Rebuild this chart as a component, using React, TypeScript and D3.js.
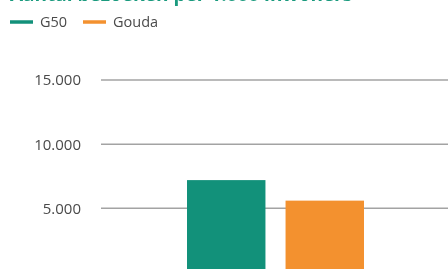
import React, { useRef, useEffect } from 'react';
import * as d3 from 'd3';

// single category, two regions side by side
const categories = ['Totaal'];
const seriesNames = ['G50', 'Gouda'];
const g50Values = [7200];
const goudaValues = [5600];
const yTicks = [5000, 10000, 15000];
const title = 'Aantal bezoeken per 1.000 inwoners';

const colors: Record<string, string> = {
  G50: '#12917a',
  Gouda: '#f3912f',
};

export default function App() {
  const svgRef = useRef<SVGSVGElement>(null);

  useEffect(() => {
    if (!svgRef.current) return;
    const svg = d3.select(svgRef.current);
    svg.selectAll('*').remove();

    const width = 448;
    const margin = { top: 0, right: -2, bottom: 0, left: 101 };
    const font = "'Open Sans', 'Noto Sans', sans-serif";

    const x0 = d3.scaleBand<string>()
      .domain(categories)
      .range([margin.left, width - margin.right])
      .paddingOuter(0.486);

    const x1 = d3.scaleBand<string>()
      .domain(seriesNames)
      .range([0, x0.bandwidth()])
      .paddingInner(0.204);

    const y = d3.scaleLinear()
      .domain([0, 15000])
      .range([272.5, 80]);

    // title (mostly cut off at the top, as in the source)
    svg.append('text')
      .attr('x', 10)
      .attr('y', 1)
      .attr('fill', '#1a9a7e')
      .attr('font-family', font)
      .attr('font-weight', 700)
      .attr('font-size', '19px')
      .text(title);

    // legend
    const legend = svg.append('g').attr('transform', 'translate(10, 22)');
    const offsets = [0, 73];
    seriesNames.forEach((name, i) => {
      const item = legend.append('g').attr('transform', `translate(${offsets[i]}, 0)`);
      item.append('line')
        .attr('x1', 0).attr('x2', 23)
        .attr('y1', 0).attr('y2', 0)
        .attr('stroke', colors[name])
        .attr('stroke-width', 3.5);
      item.append('text')
        .attr('x', 30)
        .attr('y', 5)
        .attr('fill', '#4a4a4a')
        .attr('font-family', font)
        .attr('font-size', '14.5px')
        .text(name);
    });

    // gridlines
    svg.append('g')
      .selectAll('line')
      .data(yTicks)
      .join('line')
      .attr('x1', margin.left)
      .attr('x2', width)
      .attr('y1', d => y(d))
      .attr('y2', d => y(d))
      .attr('stroke', '#a3a3a3')
      .attr('stroke-width', 1.5);

    // y tick labels, dutch thousands separator
    svg.append('g')
      .selectAll('text')
      .data(yTicks)
      .join('text')
      .attr('x', 81)
      .attr('y', d => y(d))
      .attr('dy', '0.36em')
      .attr('text-anchor', 'end')
      .attr('fill', '#4a4a4a')
      .attr('font-family', font)
      .attr('font-size', '15px')
      .text(d => d3.format(',')(d).replace(/,/g, '.'));

    // bars
    const rows = categories.map((c, i) => ({
      category: c,
      values: [
        { name: 'G50', value: g50Values[i] },
        { name: 'Gouda', value: goudaValues[i] },
      ],
    }));

    svg.append('g')
      .selectAll('g')
      .data(rows)
      .join('g')
      .attr('transform', d => `translate(${x0(d.category)}, 0)`)
      .selectAll('rect')
      .data(d => d.values)
      .join('rect')
      .attr('x', d => x1(d.name)!)
      .attr('y', d => y(d.value))
      .attr('width', x1.bandwidth())
      .attr('height', d => y(0) - y(d.value))
      .attr('fill', d => colors[d.name]);
  }, []);

  return (
    <div style={{ position: 'fixed', left: 0, top: 0 }}>
      <svg ref={svgRef} width={448} height={269} style={{ display: 'block' }} />
    </div>
  );
}
